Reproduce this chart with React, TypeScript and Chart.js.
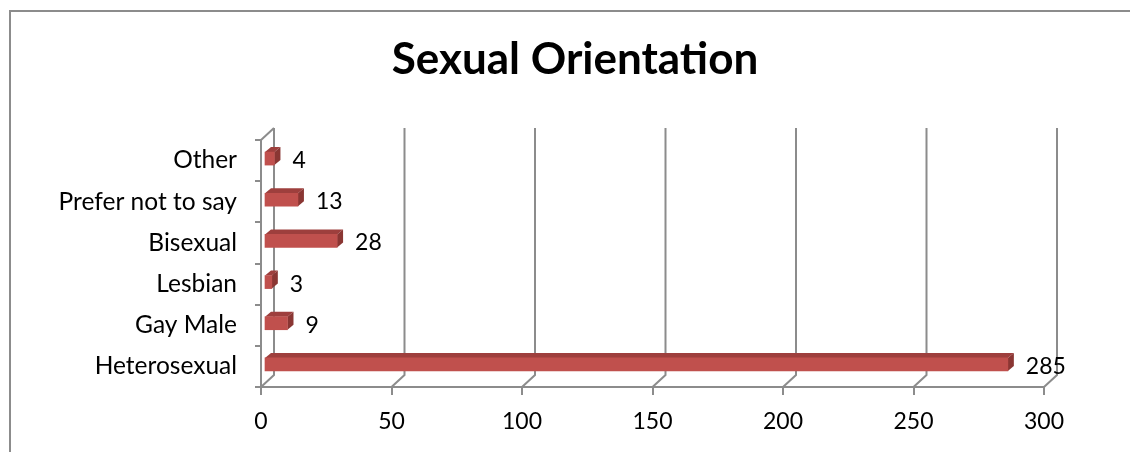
import React, { useEffect, useRef } from "react";
import { Chart, registerables } from "chart.js";

Chart.register(...registerables);

const chartTitle = "Sexual Orientation";
const categories = ["Other", "Prefer not to say", "Bisexual", "Lesbian", "Gay Male", "Heterosexual"];
const counts = [4, 13, 28, 3, 9, 285];
const xTicks = [0, 50, 100, 150, 200, 250, 300];

const GRID = "#8c8c8c";
const FONT = "Lato";
const DX = 13;
const DY = -12;
const BX = 3;
const BY = -2;
const FX = 6;
const FY = -5;

const frame = {
  id: "frame3d",
  beforeDraw(chart: any) {
    const ctx = chart.ctx;
    ctx.save();
    ctx.fillStyle = "#ffffff";
    ctx.fillRect(0, 0, chart.width, chart.height);
    ctx.strokeStyle = GRID;
    ctx.lineWidth = 2;
    ctx.beginPath();
    ctx.moveTo(10, chart.height);
    ctx.lineTo(10, 11);
    ctx.lineTo(chart.width, 11);
    ctx.stroke();
    ctx.fillStyle = "#000";
    ctx.font = `bold 44px ${FONT}`;
    ctx.textAlign = "center";
    ctx.textBaseline = "alphabetic";
    ctx.fillText(chartTitle, 575, 74);
    ctx.restore();
  },
  beforeDatasetsDraw(chart: any) {
    const ctx = chart.ctx;
    const xs = chart.scales.x;
    const area = chart.chartArea;
    ctx.save();
    ctx.strokeStyle = GRID;
    ctx.lineWidth = 2;
    xTicks.forEach((v) => {
      const fx = xs.getPixelForValue(v);
      ctx.beginPath();
      ctx.moveTo(fx + DX, area.top + DY);
      ctx.lineTo(fx + DX, area.bottom + DY);
      ctx.lineTo(fx, area.bottom);
      ctx.stroke();
    });
    const x0 = xs.getPixelForValue(0);
    ctx.beginPath();
    ctx.moveTo(x0, area.top);
    ctx.lineTo(x0 + DX, area.top + DY);
    ctx.stroke();
    ctx.restore();

    ctx.save();
    ctx.translate(BX, BY);
    const meta = chart.getDatasetMeta(0);
    meta.data.forEach((el: any) => {
      const top = el.y - el.height / 2;
      const bottom = el.y + el.height / 2;
      ctx.fillStyle = "#9e3f3d";
      ctx.beginPath();
      ctx.moveTo(el.base, top);
      ctx.lineTo(el.x, top);
      ctx.lineTo(el.x + FX, top + FY);
      ctx.lineTo(el.base + FX, top + FY);
      ctx.closePath();
      ctx.fill();
      ctx.fillStyle = "#8a3633";
      ctx.beginPath();
      ctx.moveTo(el.x, top);
      ctx.lineTo(el.x + FX, top + FY);
      ctx.lineTo(el.x + FX, bottom + FY);
      ctx.lineTo(el.x, bottom);
      ctx.closePath();
      ctx.fill();
    });
  },
  afterDatasetsDraw(chart: any) {
    const ctx = chart.ctx;
    ctx.restore();
    ctx.save();
    const meta = chart.getDatasetMeta(0);
    ctx.fillStyle = "#000";
    ctx.font = `23px ${FONT}`;
    ctx.textAlign = "left";
    ctx.textBaseline = "middle";
    meta.data.forEach((el: any, i: number) => {
      ctx.fillText(String(counts[i]), el.x + BX + 18, el.y);
    });
    ctx.restore();
  },
};

export default function App() {
  const ref = useRef<HTMLCanvasElement | null>(null);
  useEffect(() => {
    if (!ref.current) return;
    const chart = new Chart(ref.current, {
      type: "bar",
      data: {
        labels: categories,
        datasets: [
          {
            data: counts,
            backgroundColor: "#c0504d",
            borderWidth: 0,
            barThickness: 13,
          },
        ],
      },
      options: {
        indexAxis: "y",
        responsive: false,
        animation: false,
        layout: { padding: { top: 140, right: 86, left: 0, bottom: 0 } },
        plugins: {
          legend: { display: false },
          title: { display: false },
          tooltip: { enabled: false },
        },
        scales: {
          x: {
            min: 0,
            max: 300,
            afterBuildTicks: (s: any) => {
              s.ticks = xTicks.map((v) => ({ value: v }));
            },
            afterFit: (s: any) => {
              s.height = 65;
            },
            grid: { drawOnChartArea: false, drawTicks: true, tickLength: 8, color: GRID, lineWidth: 2 },
            border: { display: true, color: GRID, width: 2 },
            ticks: { color: "#000", font: { family: FONT, size: 23 }, padding: 13 },
          },
          y: {
            afterFit: (s: any) => {
              s.width = 261;
            },
            grid: { drawOnChartArea: false, drawTicks: true, tickLength: 6, color: GRID, lineWidth: 2, offset: true },
            border: { display: true, color: GRID, width: 2 },
            ticks: { color: "#000", font: { family: FONT, size: 24.5 }, padding: 18 },
          },
        },
      },
      plugins: [frame],
    });
    return () => chart.destroy();
  }, []);
  return (
    <div style={{ position: "fixed", left: 0, top: 0, width: 1130, height: 452 }}>
      <canvas ref={ref} width={1130} height={452} style={{ display: "block" }} />
    </div>
  );
}
